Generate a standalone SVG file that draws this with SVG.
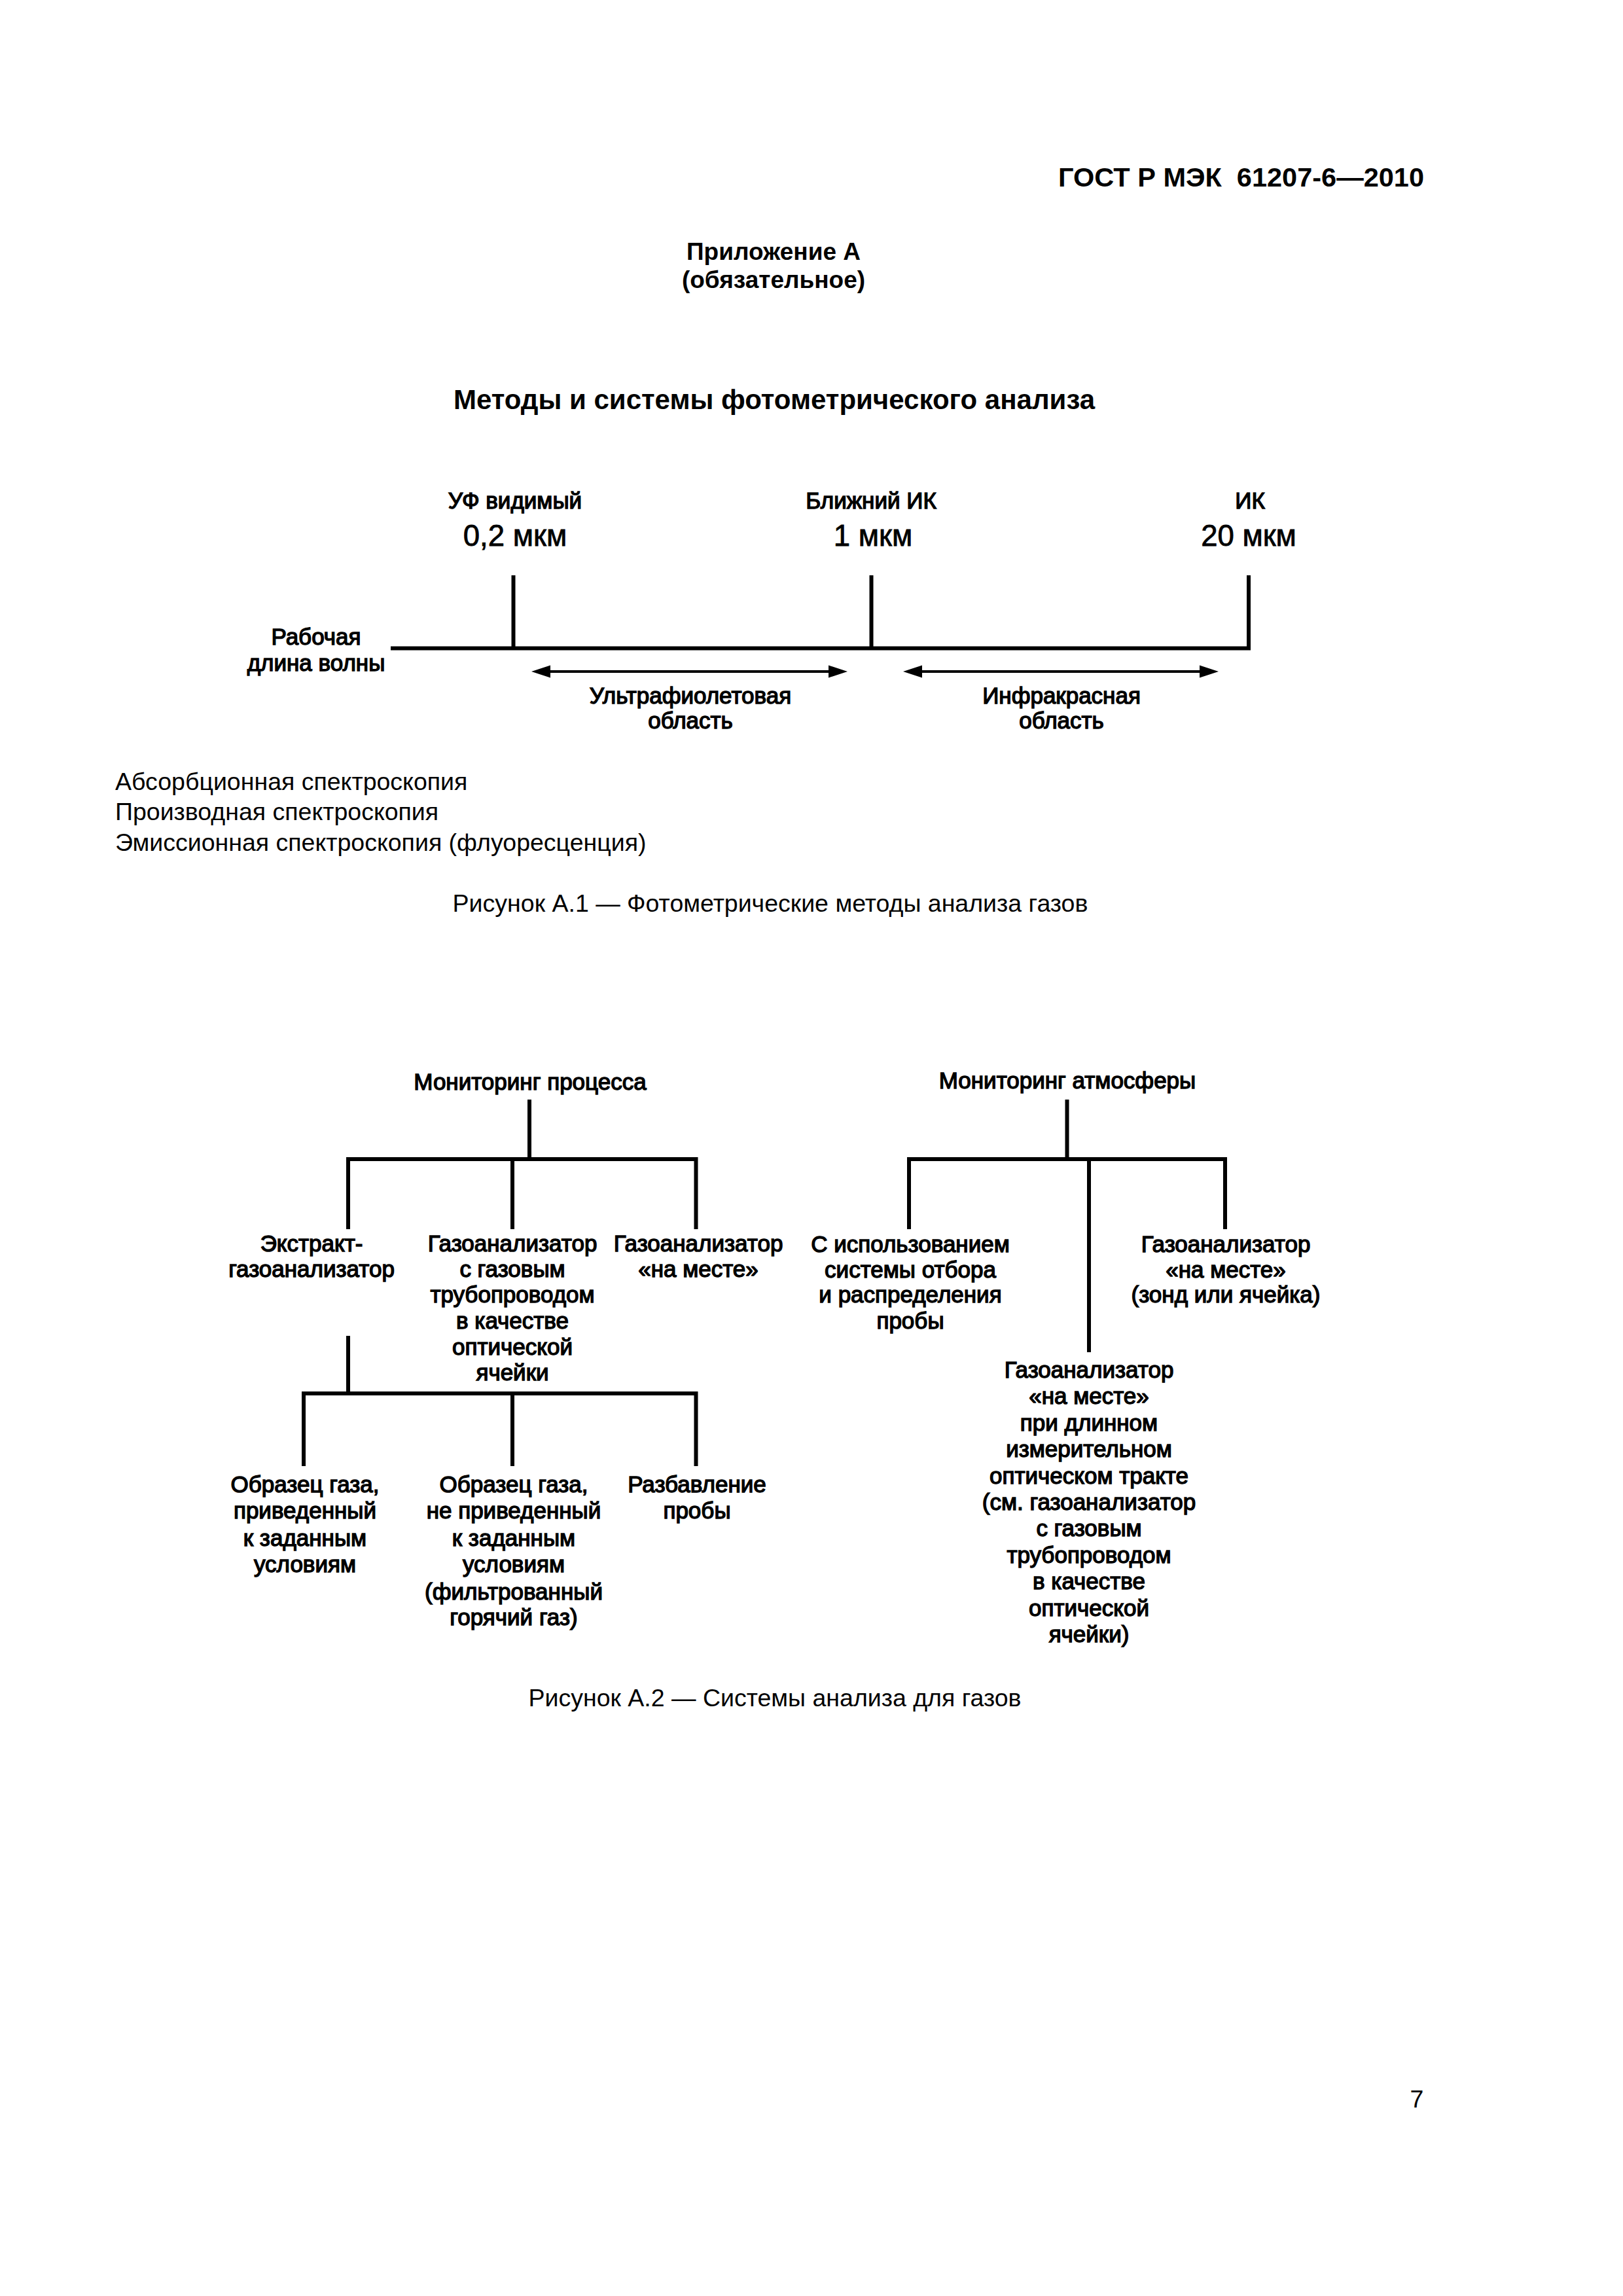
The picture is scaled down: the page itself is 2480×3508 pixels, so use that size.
<svg xmlns="http://www.w3.org/2000/svg" width="2480" height="3508" viewBox="0 0 2480 3508">
<style>
text{font-family:"Liberation Sans",Arial,sans-serif;fill:#000}
.b{font-weight:bold}
.c{text-anchor:middle}
.lbl{font-size:35px;stroke:#000;stroke-width:1.4px;text-anchor:middle}
.big{font-size:45.5px;stroke:#000;stroke-width:0.8px;text-anchor:middle}
.reg{font-size:37.5px}
.ln{stroke:#000;stroke-width:6;fill:none;stroke-linecap:square}
.ar{stroke:#000;stroke-width:4;fill:none}
.ah{fill:#000}
</style>
<rect width="2480" height="3508" fill="#fff"/>
<g id="header">
<text x="2176" y="285" class="b" font-size="41.5" text-anchor="end" xml:space="preserve">ГОСТ Р МЭК  61207-6—2010</text>
<text x="1182" y="397" class="b c" font-size="37">Приложение А</text>
<text x="1182" y="440" class="b c" font-size="37">(обязательное)</text>
<text x="1183" y="625" class="b c" font-size="42">Методы и системы фотометрического анализа</text>
</g>
<g id="fig1">
<g id="connectors1">
<path class="ln" d="M600 990.5H1908M784.5 882V990.5M1331.5 882V990.5M1908 882V990.5"/>
<path class="ar" d="M835 1026H1272M1403 1026H1839"/>
<path class="ah" d="M812 1026L841 1016.5V1035.5Z"/>
<path class="ah" d="M1295 1026L1266 1016.5V1035.5Z"/>
<path class="ah" d="M1380 1026L1409 1016.5V1035.5Z"/>
<path class="ah" d="M1862 1026L1833 1016.5V1035.5Z"/>
</g>
<g id="n-uv"><text x="787" y="777" class="lbl">УФ видимый</text><text x="787" y="834" class="big">0,2 мкм</text></g>
<g id="n-nir"><text x="1331" y="777" class="lbl">Ближний ИК</text><text x="1334" y="834" class="big">1 мкм</text></g>
<g id="n-ir"><text x="1910" y="777" class="lbl">ИК</text><text x="1908" y="834" class="big">20 мкм</text></g>
<g id="n-axis"><text x="483" y="985" class="lbl">Рабочая</text><text x="483" y="1025" class="lbl">длина волны</text></g>
<g id="n-uvr"><text x="1055" y="1075" class="lbl">Ультрафиолетовая</text><text x="1055" y="1113" class="lbl">область</text></g>
<g id="n-irr"><text x="1622" y="1075" class="lbl">Инфракрасная</text><text x="1622" y="1113" class="lbl">область</text></g>
<g id="methods">
<text x="176" y="1207" class="reg">Абсорбционная спектроскопия</text>
<text x="176" y="1253" class="reg">Производная спектроскопия</text>
<text x="176" y="1300" class="reg">Эмиссионная спектроскопия (флуоресценция)</text>
</g>
<text x="1177" y="1393" class="reg c">Рисунок А.1 — Фотометрические методы анализа газов</text>
</g>
<g id="fig2">
<g id="connectors2">
<path class="ln" d="M809 1683V1771M532 1875V1771H1063.5V1875M783 1771V1875"/>
<path class="ln" d="M532 2044V2129M464 2237V2129H1063.5V2237M783 2129V2237"/>
<path class="ln" d="M1630.5 1683V1771M1389 1875V1771H1872V1875M1664 1771V2063"/>
</g>
<g id="n-proc"><text x="810" y="1665" class="lbl">Мониторинг процесса</text></g>
<g id="n-extract"><text x="476" y="1912" class="lbl">Экстракт-</text><text x="476" y="1951" class="lbl">газоанализатор</text></g>
<g id="n-pipe"><text x="783" y="1912" class="lbl">Газоанализатор</text><text x="783" y="1951" class="lbl">с газовым</text><text x="783" y="1990" class="lbl">трубопроводом</text><text x="783" y="2030" class="lbl">в качестве</text><text x="783" y="2070" class="lbl">оптической</text><text x="783" y="2109" class="lbl">ячейки</text></g>
<g id="n-insitu1"><text x="1067" y="1912" class="lbl">Газоанализатор</text><text x="1067" y="1951" class="lbl">«на месте»</text></g>
<g id="n-s1"><text x="466" y="2280" class="lbl">Образец газа,</text><text x="466" y="2320" class="lbl">приведенный</text><text x="466" y="2362" class="lbl">к заданным</text><text x="466" y="2402" class="lbl">условиям</text></g>
<g id="n-s2"><text x="785" y="2280" class="lbl">Образец газа,</text><text x="785" y="2320" class="lbl">не приведенный</text><text x="785" y="2362" class="lbl">к заданным</text><text x="785" y="2402" class="lbl">условиям</text><text x="785" y="2444" class="lbl">(фильтрованный</text><text x="785" y="2483" class="lbl">горячий газ)</text></g>
<g id="n-dil"><text x="1065" y="2280" class="lbl">Разбавление</text><text x="1065" y="2320" class="lbl">пробы</text></g>
<g id="n-atm"><text x="1631" y="1663" class="lbl">Мониторинг атмосферы</text></g>
<g id="n-sys"><text x="1391" y="1913" class="lbl">С использованием</text><text x="1391" y="1952" class="lbl">системы отбора</text><text x="1391" y="1990" class="lbl">и распределения</text><text x="1391" y="2030" class="lbl">пробы</text></g>
<g id="n-insitu2"><text x="1873" y="1913" class="lbl">Газоанализатор</text><text x="1873" y="1952" class="lbl">«на месте»</text><text x="1873" y="1990" class="lbl">(зонд или ячейка)</text></g>
<g id="n-long"><text x="1664" y="2105" class="lbl">Газоанализатор</text><text x="1664" y="2145" class="lbl">«на месте»</text><text x="1664" y="2186" class="lbl">при длинном</text><text x="1664" y="2226" class="lbl">измерительном</text><text x="1664" y="2267" class="lbl">оптическом тракте</text><text x="1664" y="2307" class="lbl">(см. газоанализатор</text><text x="1664" y="2347" class="lbl">с газовым</text><text x="1664" y="2388" class="lbl">трубопроводом</text><text x="1664" y="2428" class="lbl">в качестве</text><text x="1664" y="2469" class="lbl">оптической</text><text x="1664" y="2509" class="lbl">ячейки)</text></g>
<text x="1184" y="2607" class="reg c">Рисунок А.2 — Системы анализа для газов</text>
</g>
<text x="2165" y="3220" class="reg c">7</text>
</svg>
